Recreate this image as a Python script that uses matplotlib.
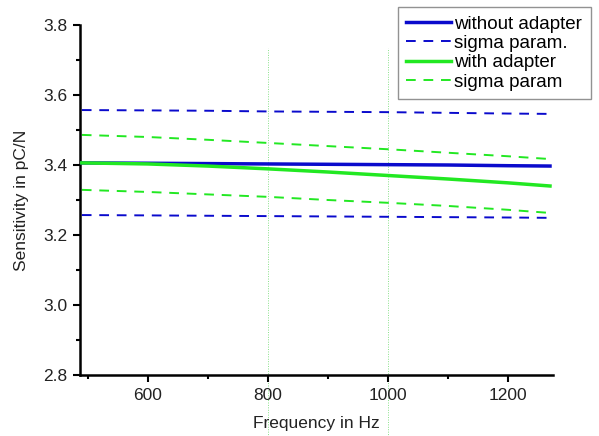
import matplotlib.pyplot as plt
from matplotlib.ticker import MultipleLocator

plt.rcParams['font.family'] = ['Liberation Sans', 'DejaVu Sans']

freq = [490, 600, 700, 800, 900, 1000, 1100, 1200, 1270]
without_adapter = [3.406, 3.405, 3.404, 3.403, 3.402, 3.401, 3.400, 3.398, 3.397]
without_upper = [3.557, 3.556, 3.555, 3.553, 3.552, 3.551, 3.549, 3.547, 3.546]
without_lower = [3.257, 3.256, 3.255, 3.254, 3.253, 3.252, 3.251, 3.250, 3.249]
with_adapter = [3.406, 3.403, 3.397, 3.389, 3.380, 3.370, 3.360, 3.349, 3.340]
with_upper = [3.486, 3.480, 3.472, 3.463, 3.454, 3.445, 3.435, 3.425, 3.417]
with_lower = [3.329, 3.323, 3.316, 3.309, 3.300, 3.292, 3.283, 3.272, 3.263]
markers_x = [800, 1000]

blue = '#0a0acc'
green = '#22e822'

fig = plt.figure(figsize=(5.99, 4.36), dpi=100)
ax = fig.add_axes([80 / 599, 1 - 375 / 436, (553 - 80) / 599, 350 / 436])

for xv in markers_x:
    ax.axvline(xv, ymin=-0.18, ymax=0.935, color='#88e088', lw=0.7,
               ls=(0, (1, 1.5)), clip_on=False, zorder=1)

ax.plot(freq, without_adapter, color=blue, lw=2.5, label='without adapter', zorder=3)
ax.plot(freq, without_upper, color=blue, lw=1.4, ls=(0, (5, 4)), label='sigma param.')
ax.plot(freq, without_lower, color=blue, lw=1.4, ls=(0, (5, 4)))
ax.plot(freq, with_adapter, color=green, lw=2.5, label='with adapter', zorder=4)
ax.plot(freq, with_upper, color=green, lw=1.4, ls=(0, (5, 4)), label='sigma param')
ax.plot(freq, with_lower, color=green, lw=1.4, ls=(0, (5, 4)))

ax.set_xlim(487, 1275)
ax.set_ylim(2.8, 3.8)
ax.xaxis.set_major_locator(MultipleLocator(200))
ax.xaxis.set_minor_locator(MultipleLocator(100))
ax.yaxis.set_major_locator(MultipleLocator(0.2))
ax.yaxis.set_minor_locator(MultipleLocator(0.1))
ax.yaxis.set_major_formatter(plt.FormatStrFormatter('%.1f'))

for side in ['top', 'right']:
    ax.spines[side].set_visible(False)
for side in ['left', 'bottom']:
    ax.spines[side].set_linewidth(1.8)

ax.tick_params(which='major', direction='out', length=5, width=1.5,
               labelsize=12.5, colors='black', labelcolor='#222222', pad=4)
ax.tick_params(which='minor', direction='out', length=3, width=1.5)

ax.set_xlabel('Frequency in Hz', fontsize=12.5, color='#222222', labelpad=10)
ax.set_ylabel('Sensitivity in pC/N', fontsize=12.5, color='#222222', labelpad=10)

leg = fig.legend(loc='upper left', bbox_to_anchor=(398 / 599, 1 - 7 / 436),
                 fontsize=13.5, frameon=True, fancybox=False,
                 handlelength=2.4, handletextpad=0.15, borderpad=0.45,
                 labelspacing=0.12, borderaxespad=0)
leg.get_frame().set_edgecolor('#777777')
leg.get_frame().set_linewidth(1.0)

fig.savefig('out.png', dpi=100)
